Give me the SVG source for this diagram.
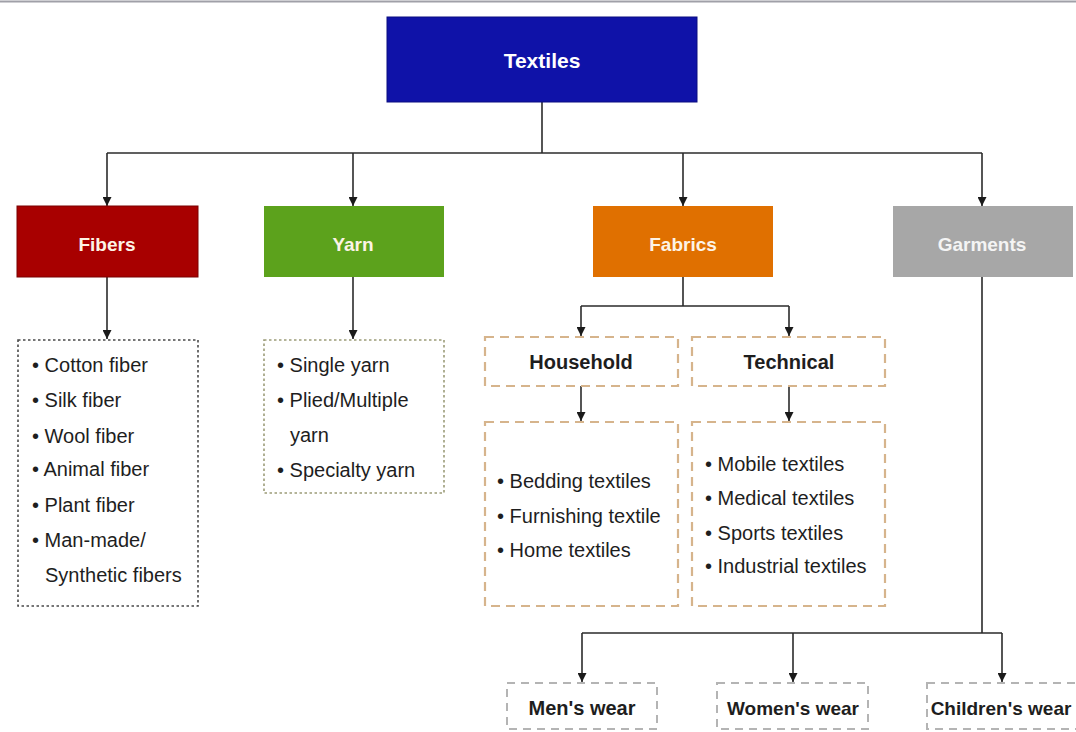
<svg xmlns="http://www.w3.org/2000/svg" width="1076" height="732" viewBox="0 0 1076 732">
<style>
.t{font-family:"Liberation Sans",Arial,sans-serif}
.hd{font-size:19px;font-weight:bold;fill:#fdf3e6;text-anchor:middle}
.li{font-size:20px;fill:#1e1e1e}
.sub{font-size:20px;font-weight:bold;fill:#1e1e1e;text-anchor:middle}
.c{stroke:#2b2b2b;stroke-width:1.6;fill:none}
.dot{fill:#fff;stroke:#4a4a4a;stroke-width:1.6;stroke-dasharray:2.5 2.5}
.doty{fill:#fff;stroke:#9c9c78;stroke-width:1.6;stroke-dasharray:2.5 2.5}
.dash{fill:#fff;stroke:#d6b48c;stroke-width:2.2;stroke-dasharray:9 6}
.dashg{fill:#fff;stroke:#b4b4b4;stroke-width:2;stroke-dasharray:8 6}
</style>
<defs>
<marker id="ah" viewBox="0 0 10 10" refX="10" refY="5" markerWidth="9" markerHeight="9" markerUnits="userSpaceOnUse" orient="auto">
<path d="M0,0 L10,5 L0,10 z" fill="#1a1a1a"/>
</marker>
</defs>
<rect x="0" y="0" width="1076" height="732" fill="#fff"/>
<line x1="0" y1="1.5" x2="1076" y2="1.5" stroke="#a0a0a8" stroke-width="2"/>

<g id="connectors">
<path class="c" d="M542,102 V153"/>
<path class="c" d="M107,153 H982"/>
<path class="c" d="M107,153 V206" marker-end="url(#ah)"/>
<path class="c" d="M353,153 V206" marker-end="url(#ah)"/>
<path class="c" d="M683,153 V206" marker-end="url(#ah)"/>
<path class="c" d="M982,153 V206" marker-end="url(#ah)"/>
<path class="c" d="M107,277 V339" marker-end="url(#ah)"/>
<path class="c" d="M353,277 V339" marker-end="url(#ah)"/>
<path class="c" d="M683,277 V306 M581,306 H789"/>
<path class="c" d="M581,306 V336" marker-end="url(#ah)"/>
<path class="c" d="M789,306 V336" marker-end="url(#ah)"/>
<path class="c" d="M581,386 V421" marker-end="url(#ah)"/>
<path class="c" d="M789,386 V421" marker-end="url(#ah)"/>
<path class="c" d="M982,277 V633 M582,633 H1002"/>
<path class="c" d="M582,633 V682" marker-end="url(#ah)"/>
<path class="c" d="M793,633 V682" marker-end="url(#ah)"/>
<path class="c" d="M1002,633 V682" marker-end="url(#ah)"/>
</g>

<g id="textiles">
<rect x="387" y="17" width="310" height="85" fill="#0f12a8" stroke="#0a0c80" stroke-width="1"/>
<text class="t hd" x="542" y="68" style="fill:#fff;font-size:21px">Textiles</text>
</g>
<g id="fibers">
<rect x="17" y="206" width="181" height="71" fill="#a80000" stroke="#7a0000" stroke-width="1"/>
<text class="t hd" x="107" y="251">Fibers</text>
</g>
<g id="yarn">
<rect x="264" y="206" width="180" height="71" fill="#5ca21c"/>
<text class="t hd" x="353" y="251">Yarn</text>
</g>
<g id="fabrics">
<rect x="593" y="206" width="180" height="71" fill="#e07000"/>
<text class="t hd" x="683" y="251">Fabrics</text>
</g>
<g id="garments">
<rect x="893" y="206" width="180" height="71" fill="#a7a7a7"/>
<text class="t hd" x="982" y="251" style="fill:#f4f4f4">Garments</text>
</g>

<g id="fiber-list">
<rect class="dot" x="18" y="340" width="180" height="266"/>
<text class="t li" x="32" y="372">• Cotton fiber</text>
<text class="t li" x="32" y="407">• Silk fiber</text>
<text class="t li" x="32" y="443">• Wool fiber</text>
<text class="t li" x="32" y="476">• Animal fiber</text>
<text class="t li" x="32" y="512">• Plant fiber</text>
<text class="t li" x="32" y="547">• Man-made/</text>
<text class="t li" x="45" y="582">Synthetic fibers</text>
</g>
<g id="yarn-list">
<rect class="doty" x="264" y="340" width="180" height="153"/>
<text class="t li" x="277" y="372">• Single yarn</text>
<text class="t li" x="277" y="407">• Plied/Multiple</text>
<text class="t li" x="290" y="442">yarn</text>
<text class="t li" x="277" y="477">• Specialty yarn</text>
</g>
<g id="household">
<rect class="dash" x="485" y="337" width="193" height="49"/>
<text class="t sub" x="581" y="369">Household</text>
</g>
<g id="technical">
<rect class="dash" x="692" y="337" width="193" height="49"/>
<text class="t sub" x="789" y="369">Technical</text>
</g>
<g id="household-list">
<rect class="dash" x="485" y="422" width="193" height="184"/>
<text class="t li" x="497" y="488">• Bedding textiles</text>
<text class="t li" x="497" y="523">• Furnishing textile</text>
<text class="t li" x="497" y="557">• Home textiles</text>
</g>
<g id="technical-list">
<rect class="dash" x="692" y="422" width="193" height="184"/>
<text class="t li" x="705" y="471">• Mobile textiles</text>
<text class="t li" x="705" y="505">• Medical textiles</text>
<text class="t li" x="705" y="540">• Sports textiles</text>
<text class="t li" x="705" y="573">• Industrial textiles</text>
</g>
<g id="mens">
<rect class="dashg" x="507" y="683" width="150" height="46"/>
<text class="t sub" x="582" y="715">Men's wear</text>
</g>
<g id="womens">
<rect class="dashg" x="717" y="683" width="151" height="46"/>
<text class="t sub" x="793" y="715" style="font-size:19px">Women's wear</text>
</g>
<g id="childrens">
<rect class="dashg" x="927" y="683" width="160" height="46"/>
<text class="t sub" x="1001" y="715" style="font-size:19px">Children's wear</text>
</g>
</svg>
